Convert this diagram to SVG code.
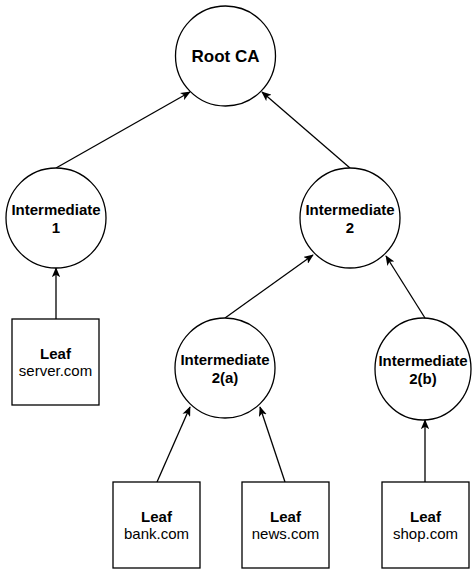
<svg xmlns="http://www.w3.org/2000/svg" width="472" height="570" viewBox="0 0 472 570">
<style>
.n{fill:#fff;stroke:#000;stroke-width:1.3}
.t{font-family:"Liberation Sans",Arial,sans-serif;text-anchor:middle;fill:#000}
.b{font-weight:bold}
.c{fill:none;stroke:#000;stroke-width:1.3}
</style>
<defs>
<marker id="ah" viewBox="0 0 12 10" refX="11" refY="5" markerWidth="10" markerHeight="8.5" markerUnits="userSpaceOnUse" orient="auto">
<path d="M0,0 L12,5 L0,10 L3,5 Z" fill="#000"/>
</marker>
</defs>
<rect width="472" height="570" fill="#fff"/>
<g id="connectors">
<line class="c" x1="56" y1="168" x2="190" y2="92" marker-end="url(#ah)"/>
<line class="c" x1="350" y1="168" x2="262" y2="92" marker-end="url(#ah)"/>
<line class="c" x1="56" y1="319" x2="56" y2="268" marker-end="url(#ah)"/>
<line class="c" x1="225" y1="318" x2="313" y2="255" marker-end="url(#ah)"/>
<line class="c" x1="425" y1="318" x2="386" y2="256" marker-end="url(#ah)"/>
<line class="c" x1="157" y1="482" x2="190" y2="407" marker-end="url(#ah)"/>
<line class="c" x1="285" y1="482" x2="260" y2="407" marker-end="url(#ah)"/>
<line class="c" x1="425" y1="482" x2="425" y2="420" marker-end="url(#ah)"/>
</g>
<g id="root">
<circle class="n" cx="225.5" cy="56" r="50"/>
<text class="t b" x="225.5" y="62" font-size="17">Root CA</text>
</g>
<g id="int1">
<circle class="n" cx="56" cy="218" r="50"/>
<text class="t b" x="56" y="215" font-size="15">Intermediate</text>
<text class="t b" x="56" y="233" font-size="15">1</text>
</g>
<g id="int2">
<circle class="n" cx="350" cy="218" r="50"/>
<text class="t b" x="350" y="215" font-size="15">Intermediate</text>
<text class="t b" x="350" y="233" font-size="15">2</text>
</g>
<g id="int2a">
<circle class="n" cx="225" cy="368" r="50"/>
<text class="t b" x="225" y="365" font-size="15">Intermediate</text>
<text class="t b" x="225" y="383" font-size="15">2(a)</text>
</g>
<g id="int2b">
<ellipse class="n" cx="423" cy="369" rx="48" ry="51"/>
<text class="t b" x="423" y="366" font-size="15">Intermediate</text>
<text class="t b" x="423" y="384" font-size="15">2(b)</text>
</g>
<g id="leaf-server">
<rect class="n" x="12" y="319" width="87" height="86"/>
<text class="t b" x="55.5" y="358.5" font-size="15">Leaf</text>
<text class="t" x="55.5" y="376" font-size="15">server.com</text>
</g>
<g id="leaf-bank">
<rect class="n" x="113" y="482" width="87" height="86"/>
<text class="t b" x="156.5" y="521.5" font-size="15">Leaf</text>
<text class="t" x="156.5" y="539" font-size="15">bank.com</text>
</g>
<g id="leaf-news">
<rect class="n" x="242" y="482" width="87" height="86"/>
<text class="t b" x="285.5" y="521.5" font-size="15">Leaf</text>
<text class="t" x="285.5" y="539" font-size="15">news.com</text>
</g>
<g id="leaf-shop">
<rect class="n" x="382" y="482" width="87" height="86"/>
<text class="t b" x="425.5" y="521.5" font-size="15">Leaf</text>
<text class="t" x="425.5" y="539" font-size="15">shop.com</text>
</g>
</svg>
